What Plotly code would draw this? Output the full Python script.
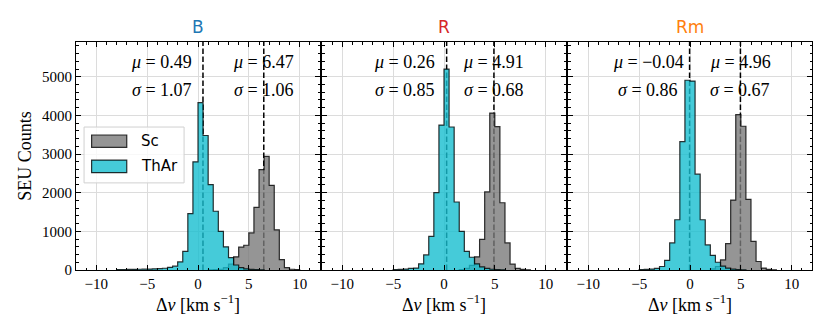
import plotly.graph_objects as go
from plotly.subplots import make_subplots

# histogram bin edges (km/s), shared by every panel
bin_edges = [-8.0, -7.5, -7.0, -6.5, -6.0, -5.5, -5.0, -4.5, -4.0, -3.5,
             -3.0, -2.5, -2.0, -1.5, -1.0, -0.5, 0.0, 0.5, 1.0, 1.5,
             2.0, 2.5, 3.0, 3.5, 4.0, 4.5, 5.0, 5.5, 6.0, 6.5,
             7.0, 7.5, 8.0, 8.5, 9.0, 9.5, 10.0]

panels = ["B", "R", "Rm"]

# counts per bin
thar_B = [10, 12, 15, 18, 20, 22, 25, 30, 35, 45,
          70, 100, 210, 480, 1460, 2800, 4330, 3480,
          2210, 1520, 1000, 600, 320, 130, 60, 30,
          15, 10, 5, 0, 0, 0, 0, 0, 0, 0]
sc_B = [0] * 18 + [5, 10, 20, 60, 150, 340, 590, 640,
                   960, 1620, 2600, 2940, 2190, 1040, 270, 60, 20, 10]

thar_R = [0, 0, 0, 0, 0, 0, 10, 15, 25, 40,
          50, 160, 390, 870, 2000, 3750, 5200, 3700,
          1760, 1000, 480, 330, 160, 80, 40, 20,
          10, 5, 0, 0, 0, 0, 0, 0, 0, 0]
sc_R = [0] * 18 + [0, 10, 40, 120, 340, 790, 2020, 4060,
                   3710, 1740, 700, 150, 40, 15, 5, 0, 0, 0]

thar_Rm = [0, 0, 0, 0, 0, 0, 10, 15, 25, 40,
           90, 250, 700, 1300, 3320, 4910, 4890, 2480,
           1300, 650, 380, 200, 100, 50, 25, 10,
           5, 0, 0, 0, 0, 0, 0, 0, 0, 0]
sc_Rm = [0] * 18 + [0, 0, 30, 90, 260, 680, 1810, 4020,
                    3720, 1830, 740, 220, 50, 15, 5, 0, 0, 0]

# fitted means / widths
thar_mu = [0.49, 0.26, -0.04]
thar_sigma = [1.07, 0.85, 0.86]
sc_mu = [6.47, 4.91, 4.96]
sc_sigma = [1.06, 0.68, 0.67]

thar_counts = [thar_B, thar_R, thar_Rm]
sc_counts = [sc_B, sc_R, sc_Rm]

title_colors = ["#1f77b4", "#d62728", "#ff7f0e"]
SC_FILL = "rgba(122,122,122,0.8)"
THAR_FILL = "rgba(23,190,207,0.8)"
EDGE = "rgba(0,0,0,0.8)"
SERIF = "Liberation Serif"
SANS = "DejaVu Sans"
YMAX = 5900

# where the left text block ends (right edge, data units) in each panel
mu_text_x = [-0.37, -0.72, -0.43]
sig_text_x = [-0.37, -0.72, -0.95]


def step_outline(edges, counts):
    # trim empty bins at both ends, then build a closed step outline
    nz = [i for i, c in enumerate(counts) if c > 0]
    lo, hi = nz[0], nz[-1]
    e = edges[lo:hi + 2]
    c = counts[lo:hi + 1]
    xs = [e[0]] + e
    ys = [0] + c + [0]
    return xs, ys


def fmt(v):
    return ("%.2f" % v).replace("-", "\u2212")


fig = make_subplots(rows=1, cols=3, shared_yaxes=True,
                    horizontal_spacing=2 / 736)

for k in range(3):
    col = k + 1
    # mean lines sit underneath the filled histograms
    for mu in (thar_mu[k], sc_mu[k]):
        fig.add_trace(go.Scatter(x=[mu, mu], y=[0, YMAX], mode="lines",
                                 line=dict(color="black", width=1.5, dash="5.5px,2.5px"),
                                 showlegend=False, hoverinfo="skip"),
                      row=1, col=col)
    for counts, fillc, name in ((sc_counts[k], SC_FILL, "Sc"),
                                (thar_counts[k], THAR_FILL, "ThAr")):
        xs, ys = step_outline(bin_edges, counts)
        fig.add_trace(go.Scatter(x=xs, y=ys, mode="lines", line_shape="hv",
                                 fill="tozeroy", fillcolor=fillc,
                                 line=dict(color=EDGE, width=1.2),
                                 name=name, showlegend=False),
                      row=1, col=col)

    xname = "x" if k == 0 else "x%d" % col
    yname = "y" if k == 0 else "y%d" % col
    # panel title
    fig.add_annotation(text=panels[k], x=0.5, y=1, xref=xname + " domain", yref=yname + " domain",
                       xanchor="center", yanchor="bottom", yshift=3, showarrow=False,
                       font=dict(family=SANS, size=17, color=title_colors[k]))
    # mu / sigma labels
    font = dict(family=SERIF, size=18, color="black")
    fig.add_annotation(text="<i>μ</i> = " + fmt(thar_mu[k]),
                       x=mu_text_x[k], y=0.912, xref=xname, yref=yname + " domain",
                       xanchor="right", yanchor="middle", showarrow=False, font=font)
    fig.add_annotation(text="<i>σ</i> = " + fmt(thar_sigma[k]),
                       x=sig_text_x[k], y=0.79, xref=xname, yref=yname + " domain",
                       xanchor="right", yanchor="middle", showarrow=False, font=font)
    fig.add_annotation(text="<i>μ</i> = " + fmt(sc_mu[k]),
                       x=sc_mu[k], y=0.912, xref=xname, yref=yname + " domain",
                       xanchor="center", yanchor="middle", showarrow=False, font=font)
    fig.add_annotation(text="<i>σ</i> = " + fmt(sc_sigma[k]),
                       x=sc_mu[k], y=0.79, xref=xname, yref=yname + " domain",
                       xanchor="center", yanchor="middle", showarrow=False, font=font)

# legend drawn by hand inside the first panel (matplotlib style boxes)
fig.add_shape(type="rect", xref="x domain", yref="y domain", x0=0.033, x1=0.443, y0=0.382, y1=0.627,
              line=dict(color="#d0d0d0", width=1), fillcolor="rgba(255,255,255,0.8)", layer="above")
for (y0, y1, fillc, name) in ((0.538, 0.592, SC_FILL, "Sc"), (0.427, 0.482, THAR_FILL, "ThAr")):
    fig.add_shape(type="rect", xref="x domain", yref="y domain", x0=0.064, x1=0.208, y0=y0, y1=y1,
                  line=dict(color=EDGE, width=1.2), fillcolor=fillc, layer="above")
    fig.add_annotation(text=name, x=0.258, y=(y0 + y1) / 2, xref="x domain", yref="y domain",
                       xanchor="left", yanchor="middle", showarrow=False,
                       font=dict(family=SANS, size=15, color="black"))

axis_common = dict(ticks="inside", tickcolor="black", showline=True, linecolor="black",
                   linewidth=1, mirror="allticks", showgrid=True, gridcolor="#dcdcdc",
                   gridwidth=1, zeroline=False, automargin=False,
                   tickfont=dict(family=SERIF, size=15, color="black"))

fig.update_xaxes(range=[-12, 12], tick0=0, dtick=5, ticklen=5,
                 minor=dict(dtick=1, ticks="inside", ticklen=2.5, tickcolor="black", showgrid=False),
                 title=dict(text="Δ<i>v</i> [km s<sup>−1</sup>]", standoff=1,
                            font=dict(family=SERIF, size=18, color="black")),
                 **axis_common)
fig.update_yaxes(range=[0, YMAX], tick0=0, dtick=1000, ticklen=5,
                 minor=dict(dtick=200, ticks="inside", ticklen=2.5, tickcolor="black", showgrid=False),
                 **axis_common)
fig.update_yaxes(title=dict(text="SEU Counts", standoff=5,
                            font=dict(family=SERIF, size=18, color="black")), row=1, col=1)

# the page puts the figure 8px in from the top-left corner, so the canvas is 8px smaller
fig.update_layout(width=822, height=324, margin=dict(l=68, r=18, t=34, b=62),
                  plot_bgcolor="white", paper_bgcolor="white", showlegend=False)

fig.write_html("out.html")
